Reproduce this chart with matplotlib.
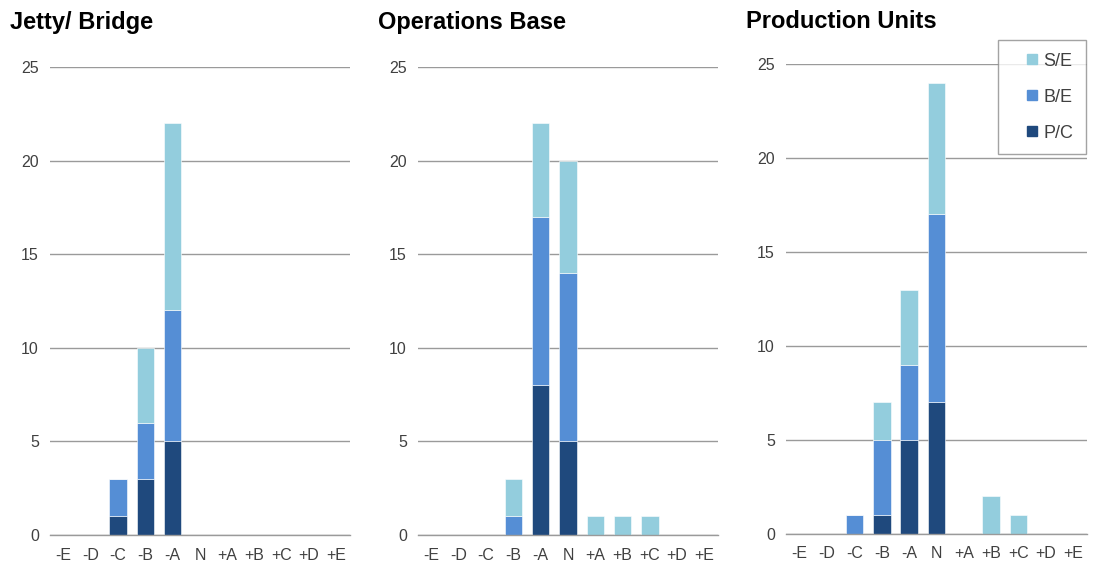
import numpy as np
import matplotlib.pyplot as plt
from matplotlib.lines import Line2D

plt.rcParams['font.family'] = ['Liberation Sans', 'DejaVu Sans']

categories = ['-E', '-D', '-C', '-B', '-A', 'N', '+A', '+B', '+C', '+D', '+E']
series_names = ['P/C', 'B/E', 'S/E']
colors = {'P/C': '#1f497d', 'B/E': '#558ed5', 'S/E': '#93cddd'}

titles = ['Jetty/ Bridge', 'Operations Base', 'Production Units']

jetty_pc = [0, 0, 1, 3, 5, 0, 0, 0, 0, 0, 0]
jetty_be = [0, 0, 2, 3, 7, 0, 0, 0, 0, 0, 0]
jetty_se = [0, 0, 0, 4, 10, 0, 0, 0, 0, 0, 0]

ops_pc = [0, 0, 0, 0, 8, 5, 0, 0, 0, 0, 0]
ops_be = [0, 0, 0, 1, 9, 9, 0, 0, 0, 0, 0]
ops_se = [0, 0, 0, 2, 5, 6, 1, 1, 1, 0, 0]

prod_pc = [0, 0, 0, 1, 5, 7, 0, 0, 0, 0, 0]
prod_be = [0, 0, 1, 4, 4, 10, 0, 0, 0, 0, 0]
prod_se = [0, 0, 0, 2, 4, 7, 0, 2, 1, 0, 0]

panels = [
    (jetty_pc, jetty_be, jetty_se),
    (ops_pc, ops_be, ops_se),
    (prod_pc, prod_be, prod_se),
]

W, H = 1093, 565
fig = plt.figure(figsize=(W / 100, H / 100), dpi=100)

# pixel extents of each plot area: (left, right, y of 0, y of 25)
boxes = [(50, 350, 535, 67), (418, 718, 535, 67), (786, 1087, 534, 64)]
title_x = [10, 378, 746]

x = np.arange(len(categories))
for i, (data, (l, r, y0, y1)) in enumerate(zip(panels, boxes)):
    ax = fig.add_axes([l / W, 1 - y0 / H, (r - l) / W, (y0 - y1) / H])
    bottom = np.zeros(len(categories))
    for name, vals in zip(series_names, data):
        vals = np.array(vals, dtype=float)
        ax.bar(x, vals, width=0.64, bottom=bottom, color=colors[name],
               edgecolor='white', linewidth=0.4, zorder=3)
        bottom += vals
    ax.set_xlim(-0.5, len(categories) - 0.5)
    ax.set_ylim(0, 25)
    ax.set_yticks(range(0, 26, 5))
    ax.yaxis.grid(True, color='#9a9a9a', linewidth=1.0, zorder=0)
    ax.axhline(0, color='#9a9a9a', linewidth=1.0, zorder=4, clip_on=False)
    ax.set_axisbelow(True)
    for s in ax.spines.values():
        s.set_visible(False)
    ax.set_xticks(x)
    ax.set_xticklabels(categories)
    ax.tick_params(axis='both', length=0, labelsize=11.5, colors='#404040')
    ax.tick_params(axis='y', pad=8)
    ax.tick_params(axis='x', pad=9)
    fig.text(title_x[i] / W, 1 - 22 / H, titles[i], fontsize=17,
             fontweight='bold', va='center', ha='left', color='black')

legend_order = ['S/E', 'B/E', 'P/C']
handles = [Line2D([], [], linestyle='none', marker='s', markersize=6.5,
                  markerfacecolor=colors[n], markeredgecolor=colors[n])
           for n in legend_order]
leg = fig.legend(handles, legend_order, loc='upper left',
                 bbox_to_anchor=(998 / W, 1 - 40 / H), borderaxespad=0,
                 frameon=True, fancybox=False, fontsize=13,
                 handlelength=2.4, handletextpad=-0.6, labelspacing=1.05,
                 borderpad=0.7, labelcolor='#404040')
leg.get_frame().set_edgecolor('#8c8c8c')
leg.get_frame().set_linewidth(1.0)

fig.savefig('out.png', dpi=100)
